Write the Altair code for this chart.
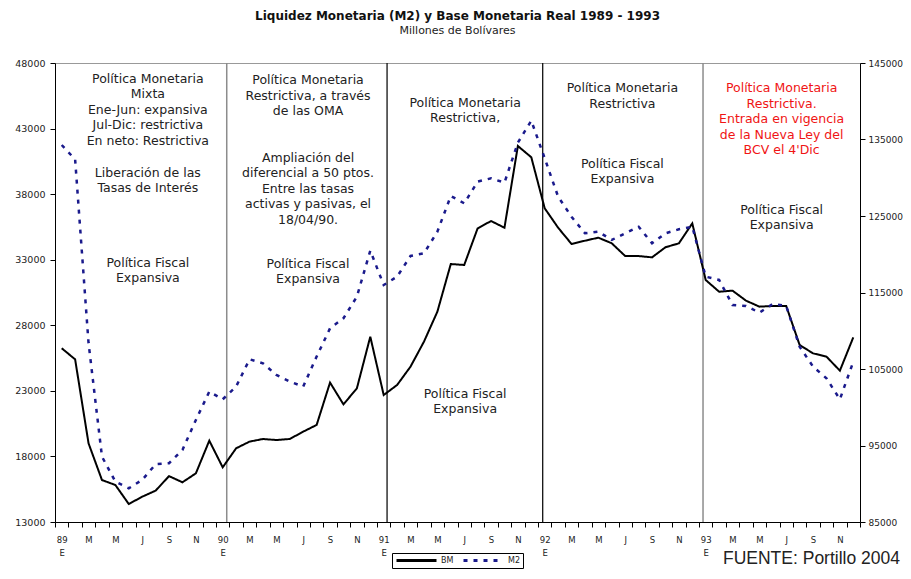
import json
import altair as alt
import pandas as pd

# ---------------- data ----------------
bm = [26250, 25400, 19000, 16200, 15820, 14370, 14930, 15390, 16500, 16030, 16710, 19200,
      17170, 18620, 19130, 19330, 19250, 19330, 19890, 20400, 23630, 21970, 23190, 27130,
      22680, 23450, 24850, 26750, 29040, 32670, 32600, 35390, 35950, 35440, 41670, 40810,
      36920, 35440, 34200, 34450, 34680, 34250, 33280, 33280, 33180, 33950, 34250, 35770,
      31450, 30560, 30640, 29880, 29420, 29470, 29470, 26500, 25860, 25610, 24540, 27080]
m2 = [134280, 132400, 108400, 93550, 90280, 89410, 90500, 92550, 92680, 94420, 98340, 102040,
      101040, 102700, 106270, 105750, 104220, 103350, 102700, 106620, 110320, 111630, 114460, 120470,
      115980, 117070, 119775, 120125, 122950, 127620, 126660, 129490, 129930, 129360, 134590, 137460,
      132540, 127530, 124900, 122740, 122950, 121870, 122740, 123600, 121430, 122740, 123260, 123600,
      117070, 116640, 113370, 113240, 112370, 113500, 113240, 107920, 105310, 103790, 101040, 105960]
months = list(range(len(bm)))

years = ["89", "90", "91", "92", "93"]
month_letters = ["", "", "M", "", "M", "", "J", "", "S", "", "N", ""]
tick_labels = []
for yy in years:
    for k, lab in enumerate(month_letters):
        tick_labels.append([yy, "E"] if k == 0 else lab)

# year separators (month position)
sep_gray = [12.3, 47.8]
sep_black = [24.25, 35.85]

ann_black_text = [
    "Política Monetaria\nMixta\nEne-Jun:  expansiva\nJul-Dic: restrictiva\nEn neto: Restrictiva",
    "Liberación de las\nTasas de Interés",
    "Política Fiscal\nExpansiva",
    "Política Monetaria\nRestrictiva, a través\nde las OMA",
    "Ampliación del\ndiferencial a 50 ptos.\nEntre las tasas\nactivas y pasivas, el\n18/04/90.",
    "Política Fiscal\nExpansiva",
    "Política Monetaria\nRestrictiva,",
    "Política Fiscal\nExpansiva",
    "Política Monetaria\nRestrictiva",
    "Política Fiscal\nExpansiva",
    "Política Fiscal\nExpansiva",
]
ann_black_x = [6.42, 6.42, 6.42, 18.36, 18.36, 18.36, 30.07, 30.07, 41.79, 41.79, 53.66]
ann_black_y = [47238, 40070, 33208, 47161, 41214, 33131, 45408, 23219, 46551, 40756, 37249]

ann_red_text = ["Política Monetaria\nRestrictiva.\nEntrada en vigencia\nde la Nueva Ley del\nBCV el 4'Dic"]
ann_red_x = [53.66]
ann_red_y = [46551]

title_text = "Liquidez Monetaria (M2) y Base Monetaria Real 1989 - 1993"
subtitle_text = "Millones de Bolívares"
source_text = "FUENTE: Portillo 2004"

# ---------------- tables ----------------
df_bm = pd.DataFrame({"m": months, "v": bm, "series": "BM"})
df_m2 = pd.DataFrame({"m": months, "v": m2, "series": "M2"})
df_sep_gray = pd.DataFrame({"m": sep_gray})
df_sep_black = pd.DataFrame({"m": sep_black})
df_ann_black = pd.DataFrame({"t": ann_black_text, "x": ann_black_x, "y": ann_black_y})
df_ann_red = pd.DataFrame({"t": ann_red_text, "x": ann_red_x, "y": ann_red_y})
df_src = pd.DataFrame({"t": [source_text]})

W, H = 805, 459
FONT = "DejaVu Sans"
NAVY = "#1a1a8c"

label_expr = "(" + json.dumps(tick_labels) + ")[round(datum.value + 0.5)] || ''"


def X(field):
    return alt.X(
        field, type="quantitative",
        scale=alt.Scale(domain=[-0.5, 59.5], nice=False, zero=False),
        axis=alt.Axis(values=[i - 0.5 for i in range(61)], labelExpr=label_expr,
                      labelOffset=W / 120, tickSize=5, labelPadding=8, grid=False,
                      title=None, domainColor="black", tickColor="black",
                      labelFont=FONT, labelFontSize=8.5, labelColor="#222",
                      labelOverlap=False, labelFlush=False, labelBound=False,
                      labelLineHeight=13.5, labelBaseline="top", labelAlign="center"),
    )


left_scale = alt.Scale(domain=[13000, 48000], nice=False, zero=False)
right_scale = alt.Scale(domain=[85000, 145000], nice=False, zero=False)

color_scale = alt.Scale(domain=["BM", "M2"], range=["black", NAVY])
dash_scale = alt.Scale(domain=["BM", "M2"], range=[[1, 0], [4, 6]])
legend = alt.Legend(title=None, orient="none", legendX=337, legendY=490,
                    direction="horizontal", symbolType="stroke", symbolSize=1600,
                    symbolStrokeWidth=3, clipHeight=9, labelFont=FONT, labelFontSize=8,
                    labelColor="#222", padding=3, strokeColor="black",
                    fillColor="white", columnPadding=8, labelOffset=3)

rules_gray = alt.Chart(df_sep_gray).mark_rule(color="#8c8c8c", strokeWidth=1.5).encode(x=X("m"))
rules_black = alt.Chart(df_sep_black).mark_rule(color="#111", strokeWidth=1.3).encode(x=X("m"))

line_bm = alt.Chart(df_bm).mark_line(strokeWidth=2).encode(
    x=X("m"),
    y=alt.Y("v:Q", scale=left_scale,
            axis=alt.Axis(orient="left", values=list(range(13000, 48001, 5000)), format="d",
                          title=None, grid=False, tickSize=5, labelPadding=5,
                          domainColor="black", tickColor="black", labelFont=FONT,
                          labelFontSize=9.5, labelColor="#222")),
    color=alt.Color("series:N", scale=color_scale, legend=legend),
    strokeDash=alt.StrokeDash("series:N", scale=dash_scale, legend=legend),
)

line_m2 = alt.Chart(df_m2).mark_line(strokeWidth=2.5).encode(
    x=X("m"),
    y=alt.Y("v:Q", scale=right_scale,
            axis=alt.Axis(orient="right", values=list(range(85000, 145001, 10000)), format="d",
                          title=None, grid=False, tickSize=5, labelPadding=3,
                          domainColor="black", tickColor="black", labelFont=FONT,
                          labelFontSize=9, labelColor="#222")),
    color=alt.Color("series:N", scale=color_scale, legend=legend),
    strokeDash=alt.StrokeDash("series:N", scale=dash_scale, legend=legend),
)

ann_black = alt.Chart(df_ann_black).mark_text(
    font=FONT, fontSize=12.5, lineBreak="\n", lineHeight=15.5, baseline="top",
    align="center", color="#222").encode(
    x=X("x"), y=alt.Y("y:Q", scale=left_scale, axis=None), text="t:N")

ann_red = alt.Chart(df_ann_red).mark_text(
    font=FONT, fontSize=12.5, lineBreak="\n", lineHeight=15.5, baseline="top",
    align="center", color="#f01414").encode(
    x=X("x"), y=alt.Y("y:Q", scale=left_scale, axis=None), text="t:N")

src = alt.Chart(df_src).mark_text(
    font="Liberation Sans", fontSize=17.5, align="right", baseline="middle",
    color="#222").encode(x=alt.value(845), y=alt.value(496), text="t:N")

chart = alt.layer(
    rules_gray, rules_black, line_bm, line_m2, ann_black, ann_red, src
).resolve_scale(y="independent").properties(
    width=W, height=H,
    autosize=alt.AutoSizeParams(type="none"),
    padding={"left": 47, "top": 55, "right": 43, "bottom": 49},
    title=alt.TitleParams(text=title_text, subtitle=subtitle_text, anchor="middle",
                          font=FONT, fontSize=12, fontWeight="bold", color="#111",
                          subtitleFont=FONT, subtitleFontSize=11, subtitleColor="#222",
                          subtitlePadding=2, offset=21),
).configure_view(stroke="#999", strokeWidth=1)

chart.save("out.html", embed_options={"renderer": "svg", "actions": False})
